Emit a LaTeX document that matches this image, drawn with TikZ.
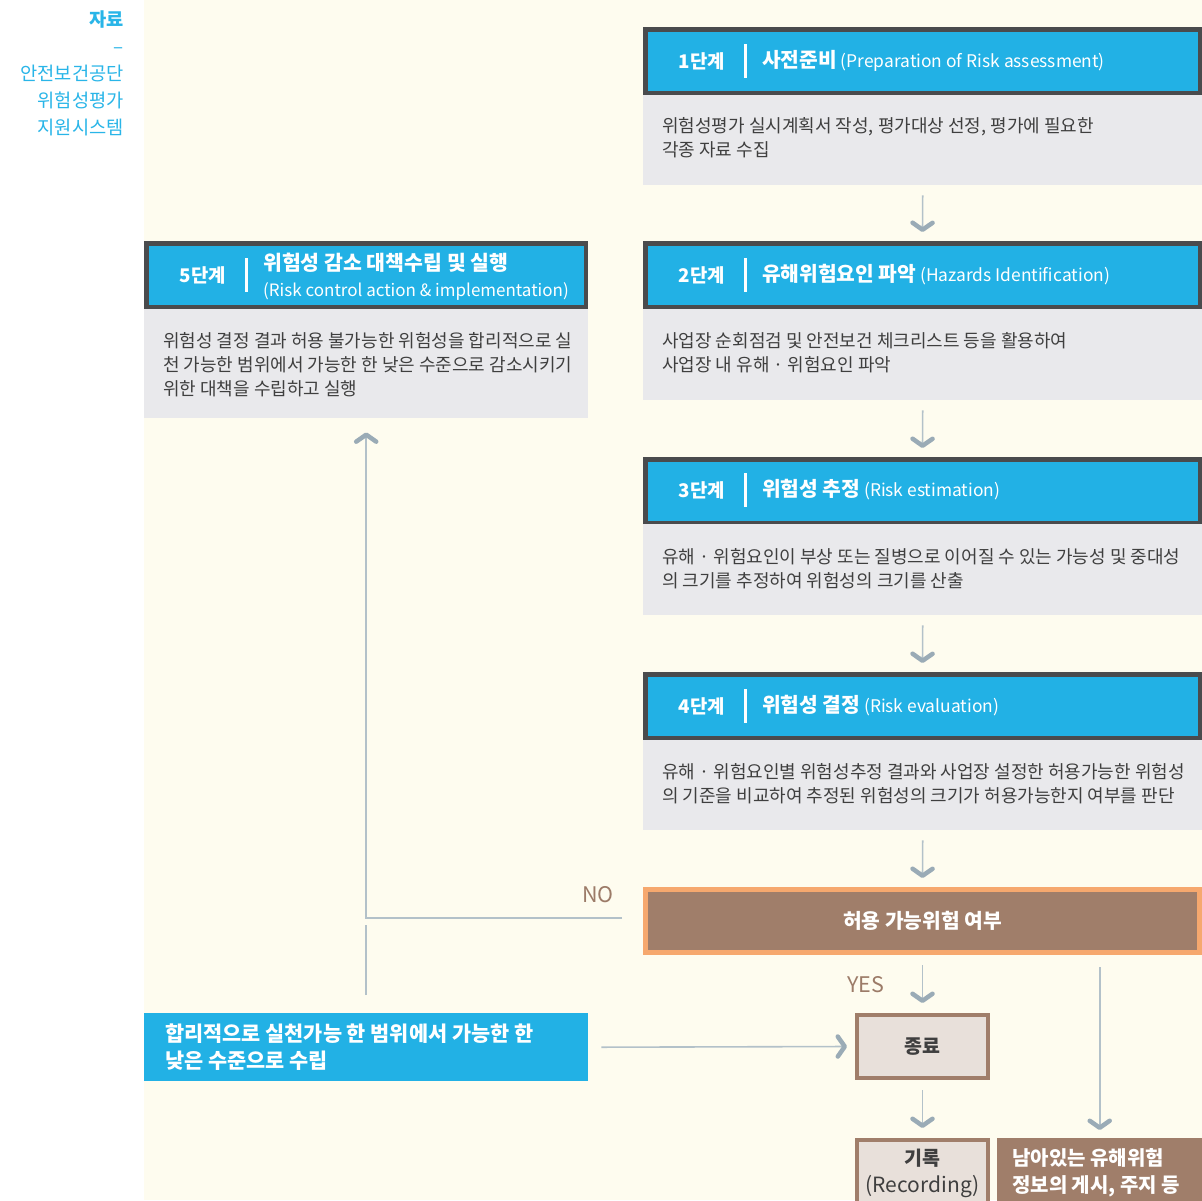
\documentclass[tikz,border=0pt]{standalone}
\usepackage{fontspec}
\setmainfont{Noto Sans CJK KR}
\usetikzlibrary{arrows.meta,calc}
\definecolor{cream}{HTML}{FEFCEF}
\definecolor{skyb}{HTML}{22B1E5}
\definecolor{darkb}{HTML}{4A4B4D}
\definecolor{bodyg}{HTML}{E9E9EC}
\definecolor{arrg}{HTML}{B3C1C9}
\definecolor{arrh}{HTML}{9AABB6}
\definecolor{brn}{HTML}{A07E6A}
\definecolor{orng}{HTML}{F6A86E}
\definecolor{lfill}{HTML}{E8E0DA}
\definecolor{txt}{HTML}{3F3F3F}
\definecolor{ttl}{HTML}{29B5E8}
\definecolor{lbl}{HTML}{9C7B68}
\tikzset{
  hdr/.style={draw=darkb, line width=4.5pt, fill=skyb, inner sep=0pt, anchor=north west,
    minimum width=554.5pt, minimum height=63.5pt},
  bodybox/.style={fill=bodyg, inner sep=0pt, anchor=north west},
  bodytxt/.style={font=\fontsize{18}{24}\selectfont, text=txt, align=left, inner sep=0pt, anchor=north west},
  hlabel/.style={font=\bfseries\fontsize{18.8}{24}\selectfont, text=white, inner sep=0pt},
  htitle/.style={font=\fontsize{17.4}{26}\selectfont, text=white, inner sep=0pt, anchor=west, align=left},
  divider/.style={draw=white, line width=3pt},
  arr/.style={draw=arrg, line width=1.6pt, -{Straight Barb[length=7pt,width=20pt,line width=4.5pt 0,color=arrh,round]}},
  plain/.style={draw=arrg, line width=1.6pt},
  yesno/.style={font=\fontsize{21.5}{24}\selectfont, text=lbl, inner sep=0pt}
}
\newcommand{\ktitle}[1]{\textbf{\fontsize{20.3}{24}\selectfont #1}}
\begin{document}
\begin{tikzpicture}[x=1pt,y=-1pt]
\useasboundingbox (0,0) rectangle (1202,1200);
\clip (0,0) rectangle (1202,1200);
\fill[white] (0,0) rectangle (1202,1200);
\fill[cream] (144,0) rectangle (1202,1200);

% source note
\node[font=\fontsize{18.7}{27}\selectfont, text=ttl, align=right, inner sep=0pt, anchor=north east] (src) at (124,11)
  {\textbf{자료}\\–\\안전보건공단\\위험성평가\\지원시스템};

% step 1
\node[hdr] (h1) at (643,27) {};
\node[hlabel] (l1) at (702,61) {1단계};
\draw[divider] (745,44) -- (745,78);
\node[htitle] (t1) at (762,61) {\ktitle{사전준비} (Preparation of Risk assessment)};
\node[bodybox, minimum width=559pt, minimum height=90pt] (b1) at (643,95) {};
\node[bodytxt] (x1) at (662,117) {위험성평가 실시계획서 작성, 평가대상 선정, 평가에 필요한\\각종 자료 수집};

% step 2
\node[hdr] (h2) at (643,241) {};
\node[hlabel] (l2) at (702,275) {2단계};
\draw[divider] (745,258) -- (745,292);
\node[htitle] (t2) at (762,275) {\ktitle{유해위험요인 파악} (Hazards Identification)};
\node[bodybox, minimum width=559pt, minimum height=91pt] (b2) at (643,309) {};
\node[bodytxt] (x2) at (662,332) {사업장 순회점검 및 안전보건 체크리스트 등을 활용하여\\사업장 내 유해 · 위험요인 파악};

% step 3
\node[hdr] (h3) at (643,457) {};
\node[hlabel] (l3) at (702,490) {3단계};
\draw[divider] (745,473) -- (745,507);
\node[htitle] (t3) at (762,490) {\ktitle{위험성 추정} (Risk estimation)};
\node[bodybox, minimum width=559pt, minimum height=91pt] (b3) at (643,524) {};
\node[bodytxt] (x3) at (662,548) {유해 · 위험요인이 부상 또는 질병으로 이어질 수 있는 가능성 및 중대성\\의 크기를 추정하여 위험성의 크기를 산출};

% step 4
\node[hdr] (h4) at (643,672) {};
\node[hlabel] (l4) at (702,706) {4단계};
\draw[divider] (745,689) -- (745,723);
\node[htitle] (t4) at (762,706) {\ktitle{위험성 결정} (Risk evaluation)};
\node[bodybox, minimum width=559pt, minimum height=90pt] (b4) at (643,740) {};
\node[bodytxt] (x4) at (662,763) {유해 · 위험요인별 위험성추정 결과와 사업장 설정한 허용가능한 위험성\\의 기준을 비교하여 추정된 위험성의 크기가 허용가능한지 여부를 판단};

% step 5
\node[hdr, minimum width=439.5pt] (h5) at (144,241) {};
\node[hlabel] (l5) at (203,275) {5단계};
\draw[divider] (246,258) -- (246,292);
\node[htitle, anchor=north west, font=\fontsize{17}{26}\selectfont] (t5) at (263,253)
  {\textbf{\fontsize{20.5}{24}\selectfont 위험성 감소 대책수립 및 실행}\\(Risk control action \& implementation)};
\node[bodybox, minimum width=444pt, minimum height=109pt] (b5) at (144,309) {};
\node[bodytxt] (x5) at (163,332) {위험성 결정 결과 허용 불가능한 위험성을 합리적으로 실\\천 가능한 범위에서 가능한 한 낮은 수준으로 감소시키기\\위한 대책을 수립하고 실행};

% decision
\node[draw=orng, line width=5pt, fill=brn, anchor=north west, inner sep=0pt,
  minimum width=554pt, minimum height=63pt, text=white,
  font=\bfseries\fontsize{20.3}{24}\selectfont] (d) at (643,887) {허용 가능위험 여부};

% end
\node[draw=brn, line width=4pt, fill=lfill, anchor=north west, inner sep=0pt,
  minimum width=131pt, minimum height=63pt, text=txt,
  font=\bfseries\fontsize{19.5}{24}\selectfont] (e) at (855,1013) {종료};

% record
\node[draw=brn, line width=4pt, fill=lfill, anchor=north west, inner sep=0pt,
  minimum width=131pt, minimum height=90pt] (r) at (855,1138) {};
\node[text=txt, align=center, inner sep=0pt, font=\fontsize{21}{27}\selectfont] (rt) at (922.5,1173)
  {\textbf{\fontsize{19.5}{24}\selectfont 기록}\\(Recording)};

% residual info
\node[fill=brn, anchor=north west, inner sep=0pt, minimum width=205pt, minimum height=90pt] (n) at (997,1138) {};
\node[text=white, align=left, inner sep=0pt, anchor=west, font=\bfseries\fontsize{20}{27}\selectfont] (nt) at (1012,1173)
  {남아있는 유해위험\\정보의 게시, 주지 등};

% blue bottom box
\node[fill=skyb, anchor=north west, inner sep=0pt, minimum width=444pt, minimum height=68pt] (bl) at (144,1013) {};
\node[text=white, align=left, inner sep=0pt, anchor=west, font=\bfseries\fontsize{20.8}{27}\selectfont] (blt) at (165,1047)
  {합리적으로 실천가능 한 범위에서 가능한 한\\낮은 수준으로 수립};

% labels
\node[yesno] (no) at (598,895) {NO};
\node[yesno] (yes) at (866,985) {YES};

% connectors
\draw[arr] ($(b1.south)+(0,10)$) -- ($(h2.north)+(0,-9)$);
\draw[arr] ($(b2.south)+(0,10)$) -- ($(h3.north)+(0,-9)$);
\draw[arr] ($(b3.south)+(0,10)$) -- ($(h4.north)+(0,-9)$);
\draw[arr] ($(b4.south)+(0,10)$) -- ($(d.north)+(0,-9)$);
\draw[arr] ($(d.west)+(-21,-3)$) -| ($(b5.south)+(0,14)$);
\draw[plain] ($(bl.north)+(0,-18)$) -- ($(bl.north)+(0,-88)$);
\draw[arr] ($(d.south)+(0,10)$) -- ($(e.north)+(0,-10)$);
\draw[arr] ($(bl.east)+(13,0)$) -- ($(e.west)+(-8,0)$);
\draw[arr] ($(e.south)+(0,10)$) -- ($(r.north)+(0,-10)$);
\draw[arr] ($(d.south -| n.north)+(0,12)$) -- ($(n.north)+(0,-8)$);
\end{tikzpicture}
\end{document}
